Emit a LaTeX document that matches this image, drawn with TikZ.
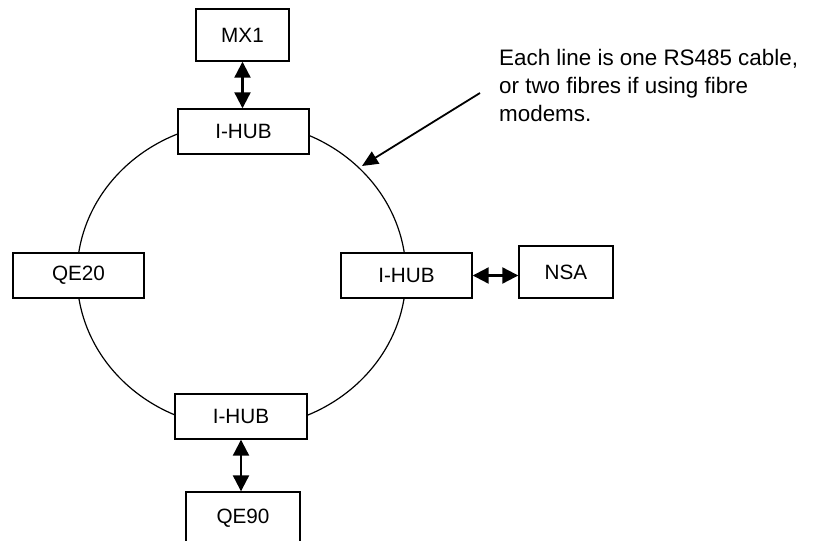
\documentclass[tikz,border=0pt]{standalone}
\usepackage{fontspec}
\setmainfont{Liberation Sans}
\usetikzlibrary{arrows.meta}
\begin{document}
\begin{tikzpicture}[x=1pt,y=-1pt,
  box/.style={draw=black, line width=1.4pt, fill=white, rectangle, inner sep=0pt,
    font=\fontsize{20.7}{24}\selectfont},
  link/.style={line width=2.2pt, {Triangle[length=16pt,width=16pt]}-{Triangle[length=16pt,width=16pt]}},
  note/.style={line width=1.8pt, -{Triangle[length=16pt,width=14pt]}}]
\clip (0,0) rectangle (825,541);
\useasboundingbox (0,0) rectangle (825,541);
\draw[line width=1.2pt] (241.5,275) ellipse [x radius=164.5, y radius=153];
\node[box, minimum width=93pt, minimum height=52pt] (mx1) at (242.5,35) {MX1};
\node[box, minimum width=131pt, minimum height=45pt] (hubtop) at (243.5,131.5) {I-HUB};
\node[box, minimum width=131pt, minimum height=45pt] (hubright) at (406.5,275.5) {I-HUB};
\node[box, minimum width=94pt, minimum height=52pt] (nsa) at (566,272) {NSA};
\node[box, minimum width=131pt, minimum height=45pt] (qe20) at (78.5,275.5) {QE20};
\node[box, minimum width=132pt, minimum height=45pt] (hubbot) at (241,416.5) {I-HUB};
\node[box, minimum width=114pt, minimum height=52pt] (qe90) at (243,518) {QE90};
\draw[link] (mx1.south) -- (mx1.south |- hubtop.north);
\draw[link] (hubright.east) -- (hubright.east -| nsa.west);
\draw[link] (hubbot.south) -- (hubbot.south |- qe90.north);
\node[anchor=north west, inner sep=0pt, align=left, font=\fontsize{22.4}{28}\selectfont] (txt) at (499,49)
  {Each line is one RS485 cable,\\or two fibres if using fibre\\modems.};
\coordinate (tip) at (362,166);
\coordinate (tail) at (480,93);
\draw[note] (tail) -- (tip);
\end{tikzpicture}
\end{document}
